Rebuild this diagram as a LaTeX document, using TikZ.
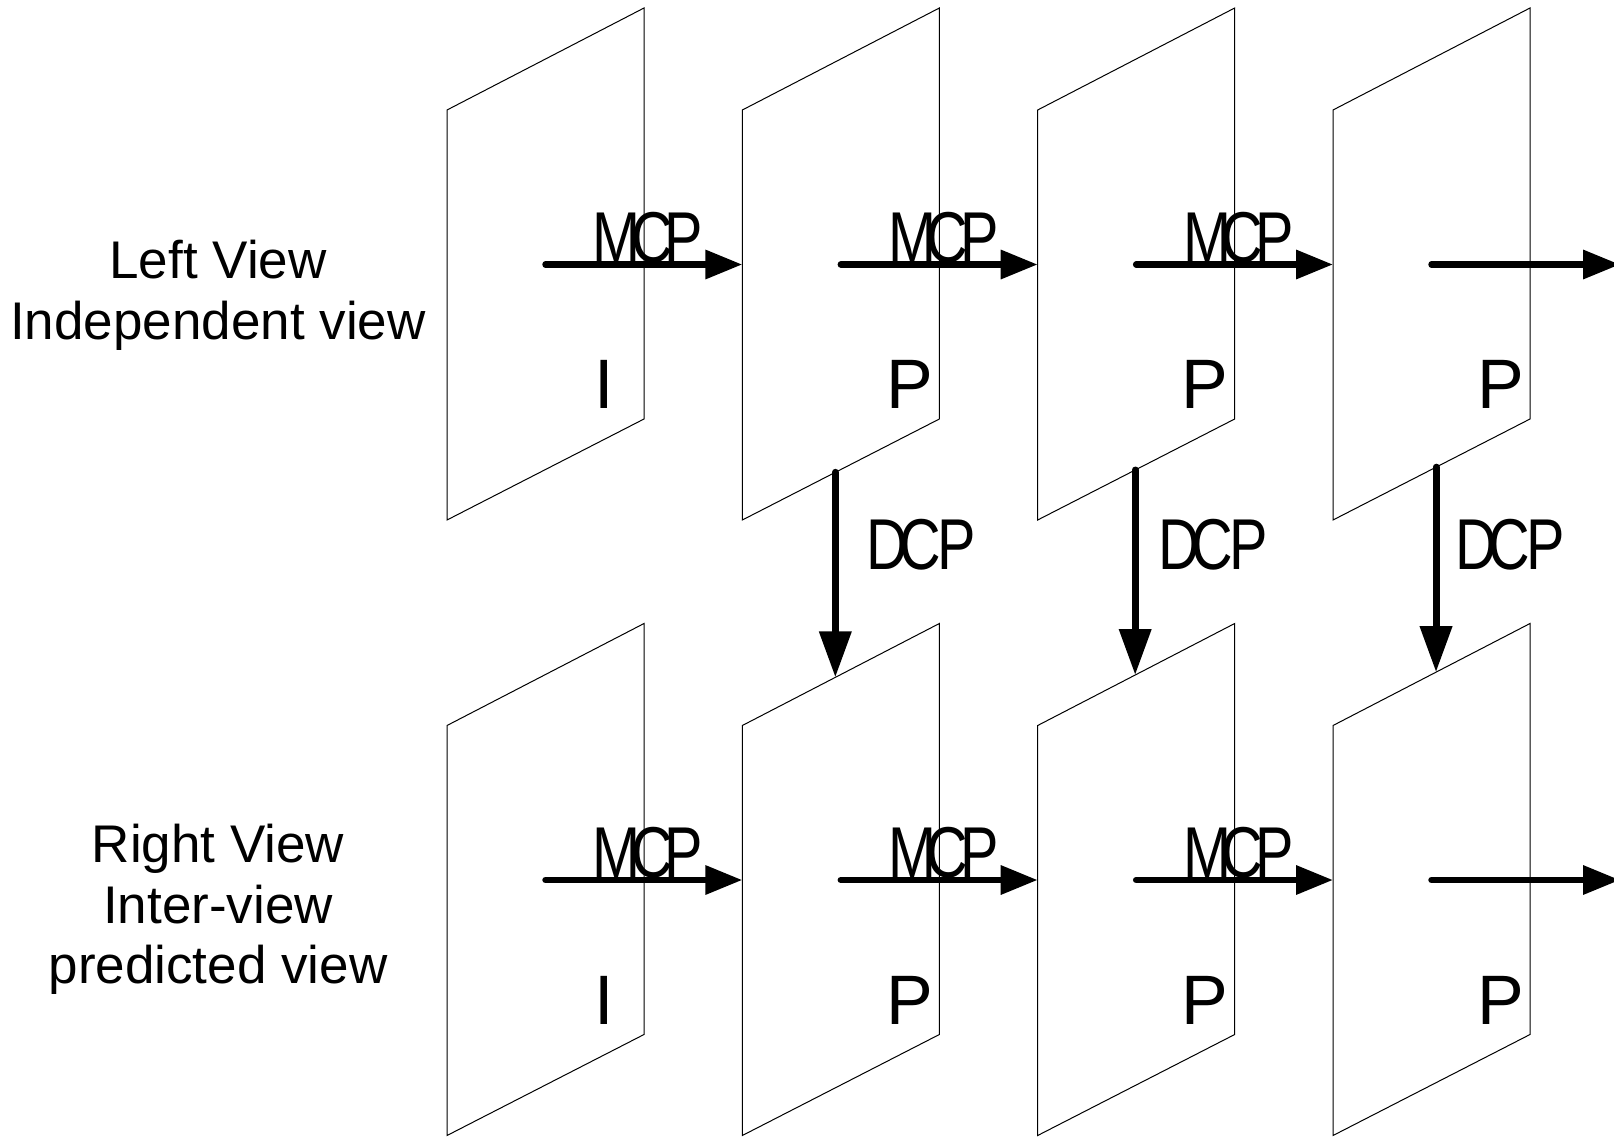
\documentclass[tikz,border=0pt]{standalone}
\usepackage{fontspec}
\setmainfont{Liberation Sans}
\usepackage{graphicx}
\usetikzlibrary{arrows.meta,calc}

\newcommand\mcptext{\scalebox{0.8}[1]{M\kern-12bp C\kern-10bp P}}
\newcommand\dcptext{\scalebox{0.8}[1]{D\kern-10.6bp C\kern-4.6bp P}}

\tikzset{
  frm/.style={draw=black, line width=1bp, line join=miter},
  harrow/.style={line width=6.5bp, line cap=round, -{Triangle[length=37bp,width=28bp]}},
  varrow/.style={line width=7bp, line cap=round, -{Triangle[length=46bp,width=31bp]}},
  typelbl/.style={anchor=base, inner sep=0pt, font=\fontsize{70bp}{84bp}\selectfont},
  sidelbl/.style={anchor=base, inner sep=0pt, font=\fontsize{53bp}{64bp}\selectfont},
  mcplbl/.style={anchor=base, inner sep=0pt, xshift=4bp, yshift=2.25bp, font=\fontsize{72bp}{86bp}\selectfont},
  dcplbl/.style={anchor=base west, inner sep=0pt, font=\fontsize{72bp}{86bp}\selectfont},
}

\begin{document}
\begin{tikzpicture}[x=1bp, y=-1bp]
\useasboundingbox (0,0) rectangle (1614,1136);

% frames
\foreach \r in {1,2} {
  \foreach \c in {1,...,4} {
    \pgfmathsetmacro\L{447+295.33*(\c-1)}
    \pgfmathsetmacro\T{615.5*(\r-1)}
    \coordinate (tl-\r-\c) at (\L, 110+\T);
    \coordinate (tr-\r-\c) at (\L+197, 8+\T);
    \coordinate (br-\r-\c) at (\L+197, 419+\T);
    \coordinate (bl-\r-\c) at (\L, 520+\T);
    \coordinate (m-\r-\c) at (\L+98.5, 264.5+\T);
    \coordinate (w-\r-\c) at (\L, 264.5+\T);
    \draw[frm] (tl-\r-\c) -- (tr-\r-\c) -- (br-\r-\c) -- (bl-\r-\c) -- cycle;
  }
}

% frame type labels
\node[typelbl] (t-1-1) at (604,408.6) {I};
\node[typelbl] (t-1-2) at (910,408.6) {P};
\node[typelbl] (t-1-3) at (1205.3,408.6) {P};
\node[typelbl] (t-1-4) at (1500.7,408.6) {P};
\node[typelbl] (t-2-1) at (604,1024.1) {I};
\node[typelbl] (t-2-2) at (910,1024.1) {P};
\node[typelbl] (t-2-3) at (1205.3,1024.1) {P};
\node[typelbl] (t-2-4) at (1500.7,1024.1) {P};

% MCP arrows
\foreach \r in {1,2} {
  \foreach \c [evaluate=\c as \n using int(\c+1)] in {1,2,3} {
    \draw[harrow] (m-\r-\c) -- node[mcplbl] (mcp-\r-\c) {\mcptext} (w-\r-\n);
  }
}
\coordinate (out-1) at (1620,264.5);
\coordinate (out-2) at (1620,880);
\draw[harrow] (m-1-4) -- (out-1);
\draw[harrow] (m-2-4) -- (out-2);

% DCP arrows
\coordinate (ds-2) at ($(bl-1-2)!0.472!(br-1-2)$);
\coordinate (de-2) at ($(tl-2-2)!0.472!(tr-2-2)$);
\coordinate (ds-3) at ($(bl-1-3)!0.495!(br-1-3)$);
\coordinate (de-3) at ($(tl-2-3)!0.495!(tr-2-3)$);
\coordinate (ds-4) at ($(bl-1-4)!0.523!(br-1-4)$);
\coordinate (de-4) at ($(tl-2-4)!0.523!(tr-2-4)$);
\draw[varrow] (ds-2) -- (de-2);
\draw[varrow] (ds-3) -- (de-3);
\draw[varrow] (ds-4) -- (de-4);

\node[dcplbl] (dcp-2) at (866.4,569) {\dcptext};
\node[dcplbl] (dcp-3) at (1158.5,569) {\dcptext};
\node[dcplbl] (dcp-4) at (1455,569) {\dcptext};

% side labels
\node[sidelbl] (lv1) at (218,278) {Left View};
\node[sidelbl] (lv2) at (218,339) {Independent view};
\node[sidelbl] (rv1) at (218,862) {Right View};
\node[sidelbl] (rv2) at (218,923) {Inter-view};
\node[sidelbl] (rv3) at (218,983) {predicted view};
\end{tikzpicture}
\end{document}
